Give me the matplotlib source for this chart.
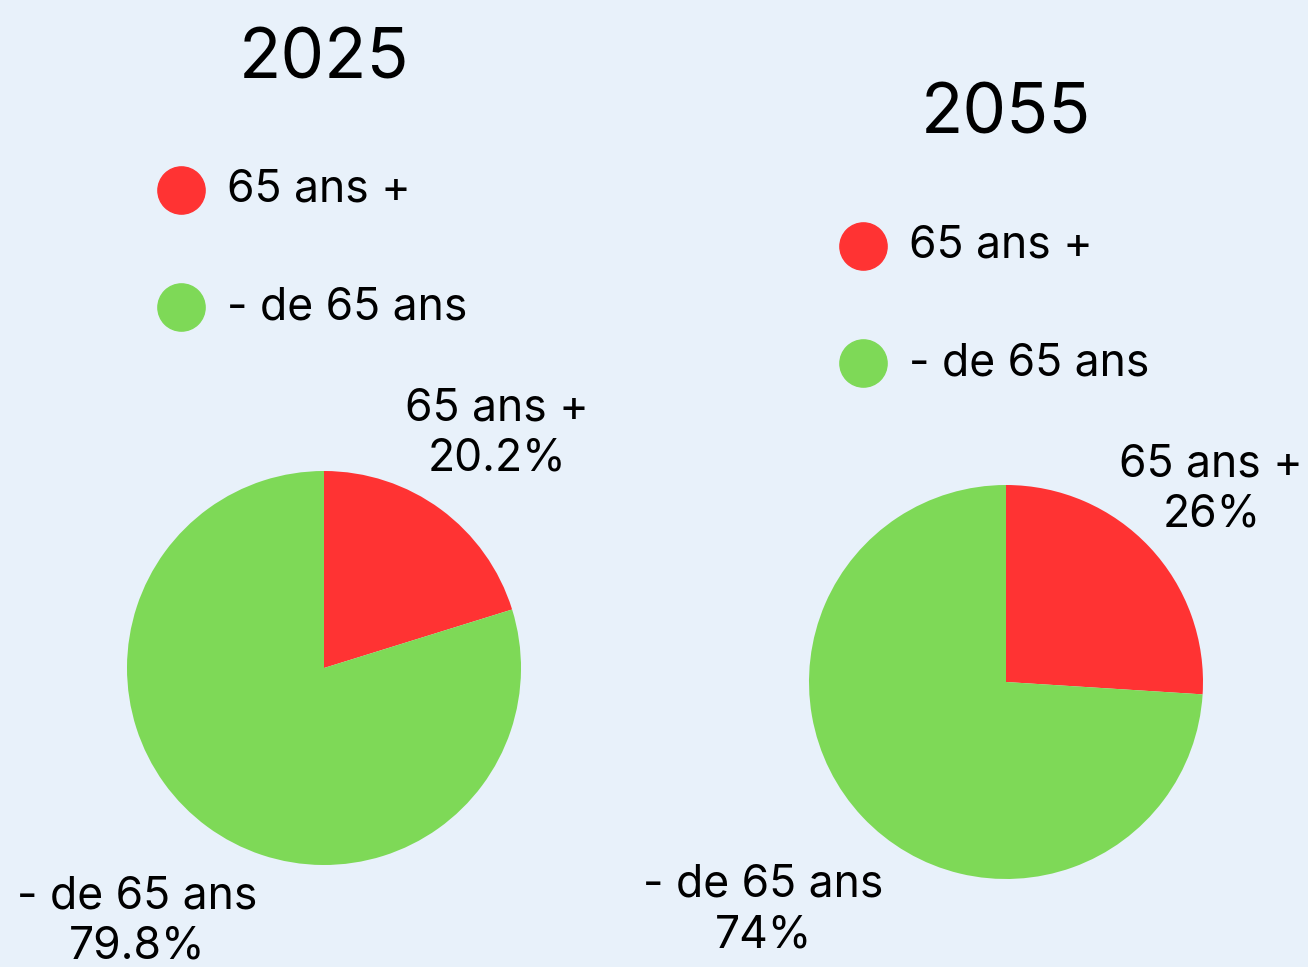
import matplotlib.pyplot as plt
from matplotlib.lines import Line2D

years = ["2025", "2055"]
categories = ["65 ans +", "- de 65 ans"]
shares_2025 = [20.2, 79.8]
shares_2055 = [26, 74]
pct_labels_2025 = ["20.2%", "79.8%"]
pct_labels_2055 = ["26%", "74%"]

BG = "#e8f1fa"
COLORS = ["#ff3333", "#7ed957"]
W, H = 1308, 967

plt.rcParams["font.family"] = ["Inter", "DejaVu Sans"]

fig = plt.figure(figsize=(W / 100, H / 100), dpi=100, facecolor=BG)

# pixel layout: pie centre, radius, title y, legend top, label distances
panels = [
    dict(year=years[0], vals=shares_2025, pcts=pct_labels_2025, cx=324, cy=668, r=197,
         title_y=60, leg_x=181, leg_y=190, dists=[1.48, 1.60]),
    dict(year=years[1], vals=shares_2055, pcts=pct_labels_2055, cx=1006, cy=682, r=197,
         title_y=115, leg_x=863, leg_y=246, dists=[1.43, 1.69]),
]

for p in panels:
    ax = fig.add_axes([(p["cx"] - p["r"]) / W, (H - p["cy"] - p["r"]) / H,
                       2 * p["r"] / W, 2 * p["r"] / H])
    labels = [f"{c}\n{t}" for c, t in zip(categories, p["pcts"])]
    wedges, texts = ax.pie(p["vals"], colors=COLORS, startangle=90, counterclock=False,
                           labels=labels, labeldistance=1.5,
                           textprops=dict(fontsize=32, ha="center", va="center",
                                          linespacing=1.25))
    for t, d in zip(texts, p["dists"]):
        x, y = t.get_position()
        t.set_position((x / 1.5 * d, y / 1.5 * d))
        t.set_horizontalalignment("center")
        t.set_clip_on(False)
    ax.set_xlim(-1, 1)
    ax.set_ylim(-1, 1)
    ax.axis("off")

    fig.text(p["cx"] / W, 1 - p["title_y"] / H, p["year"], fontsize=50,
             ha="center", va="center")

    for i, c in enumerate(categories):
        y = 1 - (p["leg_y"] + i * 117) / H
        fig.add_artist(Line2D([p["leg_x"] / W], [y], marker="o", markersize=34,
                              color=COLORS[i], transform=fig.transFigure))
        fig.text((p["leg_x"] + 46) / W, y, c, fontsize=32, ha="left", va="center")

fig.savefig("out.png", dpi=100, facecolor=BG)
